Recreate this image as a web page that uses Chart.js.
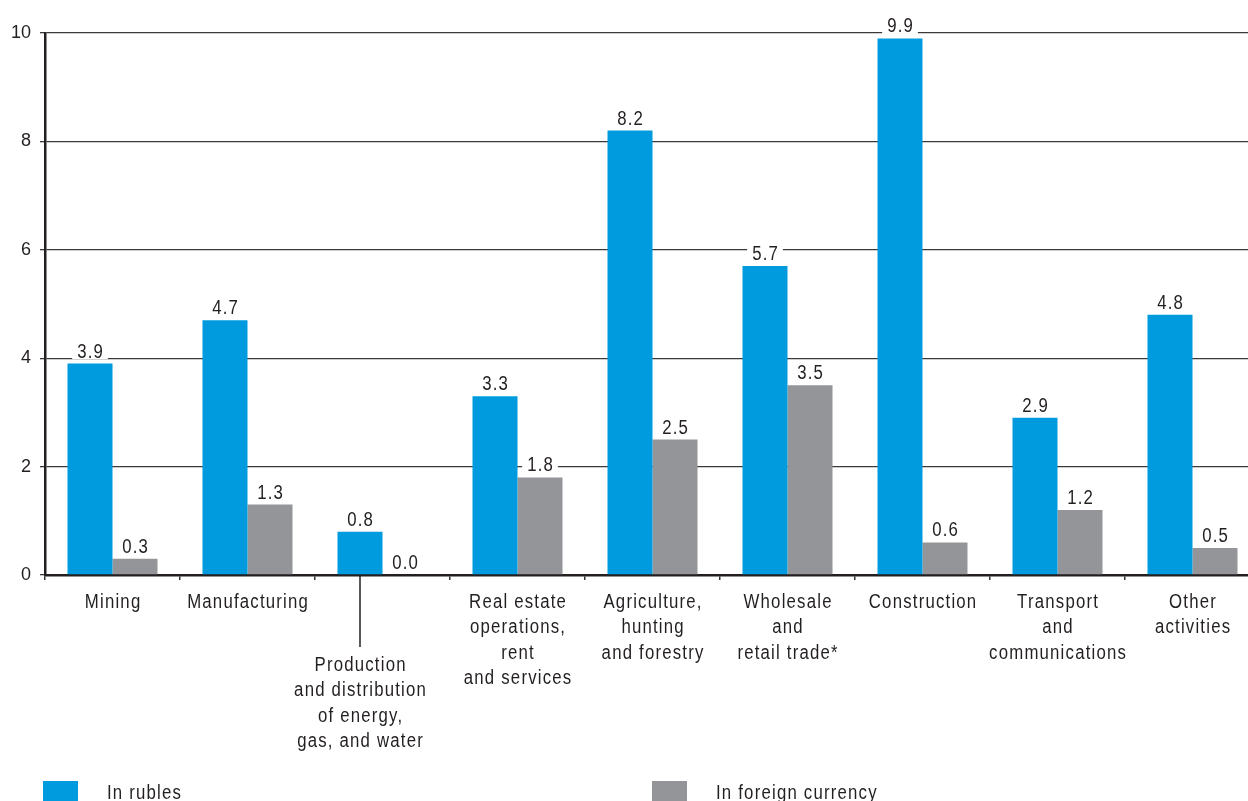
<!DOCTYPE html>
<html>
<head>
<meta charset="utf-8">
<script src="https://cdn.jsdelivr.net/npm/chart.js@4.4.1/dist/chart.umd.min.js"></script>
<style>
  html, body { margin: 0; padding: 0; background: #fff; overflow: hidden; }
  #wrap { position: relative; width: 1262px; height: 801px; }
</style>
</head>
<body>
<div id="wrap"><canvas id="loansChart"></canvas></div>
<script>
const categories = [
  ["Mining"],
  ["Manufacturing"],
  ["Production", "and distribution", "of energy,", "gas, and water"],
  ["Real estate", "operations,", "rent", "and services"],
  ["Agriculture,", "hunting", "and forestry"],
  ["Wholesale", "and", "retail trade*"],
  ["Construction"],
  ["Transport", "and", "communications"],
  ["Other", "activities"]
];
const inRubles = [3.9, 4.7, 0.8, 3.3, 8.2, 5.7, 9.9, 2.9, 4.8];
const inForeign = [0.3, 1.3, 0.0, 1.8, 2.5, 3.5, 0.6, 1.2, 0.5];
const seriesNames = ["In rubles", "In foreign currency"];
const yTicks = [0, 2, 4, 6, 8, 10];

const BLUE = '#009bde';
const GREY = '#939598';
const INK = '#231f20';
const FONT = '"Liberation Sans", Arial, sans-serif';
const SX = 0.86, LS = 1.4, FSIZE = 19.5;

// condensed look: squeeze Liberation Sans horizontally and open up the tracking
function textWidth(ctx, txt) {
  ctx.save();
  ctx.font = FSIZE + 'px ' + FONT;
  ctx.letterSpacing = LS + 'px';
  const w = (ctx.measureText(txt).width - LS) * SX;
  ctx.restore();
  return w;
}

function narrowText(ctx, txt, x, y, align) {
  const w = textWidth(ctx, txt);
  ctx.save();
  ctx.font = FSIZE + 'px ' + FONT;
  ctx.letterSpacing = LS + 'px';
  ctx.textAlign = 'left';
  const left = align === 'center' ? x - w / 2 : x;
  ctx.translate(left, y);
  ctx.scale(SX, 1);
  ctx.fillText(txt, 0, 0);
  ctx.restore();
}

// numbers above each bar, on a white patch so the grid line breaks behind them
const barValues = {
  id: 'barValues',
  afterDatasetsDraw(chart) {
    const ctx = chart.ctx;
    ctx.save();
    chart.data.datasets.forEach((ds, di) => {
      chart.getDatasetMeta(di).data.forEach((bar, i) => {
        const txt = ds.data[i].toFixed(1);
        const w = textWidth(ctx, txt);
        const base = bar.y - 6;
        ctx.fillStyle = '#fff';
        ctx.fillRect(bar.x - w / 2 - 5, base - 15, w + 10, 16.5);
        ctx.fillStyle = INK;
        narrowText(ctx, txt, bar.x, base, 'center');
      });
    });
    ctx.restore();
  }
};

// category names under the axis; the third one hangs lower on a leader line
const categoryLabels = {
  id: 'categoryLabels',
  afterDraw(chart) {
    const ctx = chart.ctx;
    const xs = chart.scales.x;
    const bottom = chart.chartArea.bottom;
    ctx.save();
    ctx.fillStyle = INK;
    categories.forEach((lines, i) => {
      let cx = xs.getPixelForValue(i);
      let y0 = bottom + 33;
      if (i === 2) {
        cx = chart.getDatasetMeta(0).data[i].x;
        y0 = bottom + 96;
        ctx.strokeStyle = INK;
        ctx.lineWidth = 1.5;
        ctx.beginPath();
        ctx.moveTo(cx, bottom);
        ctx.lineTo(cx, bottom + 72);
        ctx.stroke();
      }
      lines.forEach((ln, k) => narrowText(ctx, ln, cx, y0 + k * 25.3, 'center'));
    });

    // legend boxes along the bottom edge
    const legendX = [43, 652];
    chart.data.datasets.forEach((ds, di) => {
      ctx.fillStyle = ds.backgroundColor;
      ctx.fillRect(legendX[di], 781, 35, 35);
      ctx.fillStyle = INK;
      narrowText(ctx, seriesNames[di], legendX[di] + 64, 799, 'left');
    });
    ctx.restore();
  }
};

new Chart(document.getElementById('loansChart'), {
  type: 'bar',
  data: {
    labels: categories.map(c => c.join(' ')),
    datasets: [
      { label: seriesNames[0], data: inRubles, backgroundColor: BLUE },
      { label: seriesNames[1], data: inForeign, backgroundColor: GREY }
    ]
  },
  options: {
    responsive: true,
    maintainAspectRatio: false,
    animation: false,
    layout: { padding: { top: 33, right: 2, left: 0, bottom: 0 } },
    datasets: { bar: { barPercentage: 1, categoryPercentage: 90 / 135 } },
    plugins: { legend: { display: false }, tooltip: { enabled: false } },
    scales: {
      x: {
        offset: true,
        grid: { offset: true, drawOnChartArea: false, drawTicks: true, tickLength: 5, color: '#333', lineWidth: 1.5 },
        border: { display: true, color: INK, width: 2.5 },
        ticks: { display: false },
        afterFit: s => { s.height = 226; }
      },
      y: {
        min: 0,
        max: 10,
        afterBuildTicks: s => { s.ticks = yTicks.map(v => ({ value: v })); },
        ticks: { color: INK, font: { family: FONT, size: 18 }, padding: 9 },
        grid: { color: '#3a3a3a', lineWidth: 1.3, tickLength: 5 },
        border: { display: true, color: INK, width: 2.5 },
        afterFit: s => { s.width = 45; }
      }
    }
  },
  plugins: [barValues, categoryLabels]
});
</script>
</body>
</html>
